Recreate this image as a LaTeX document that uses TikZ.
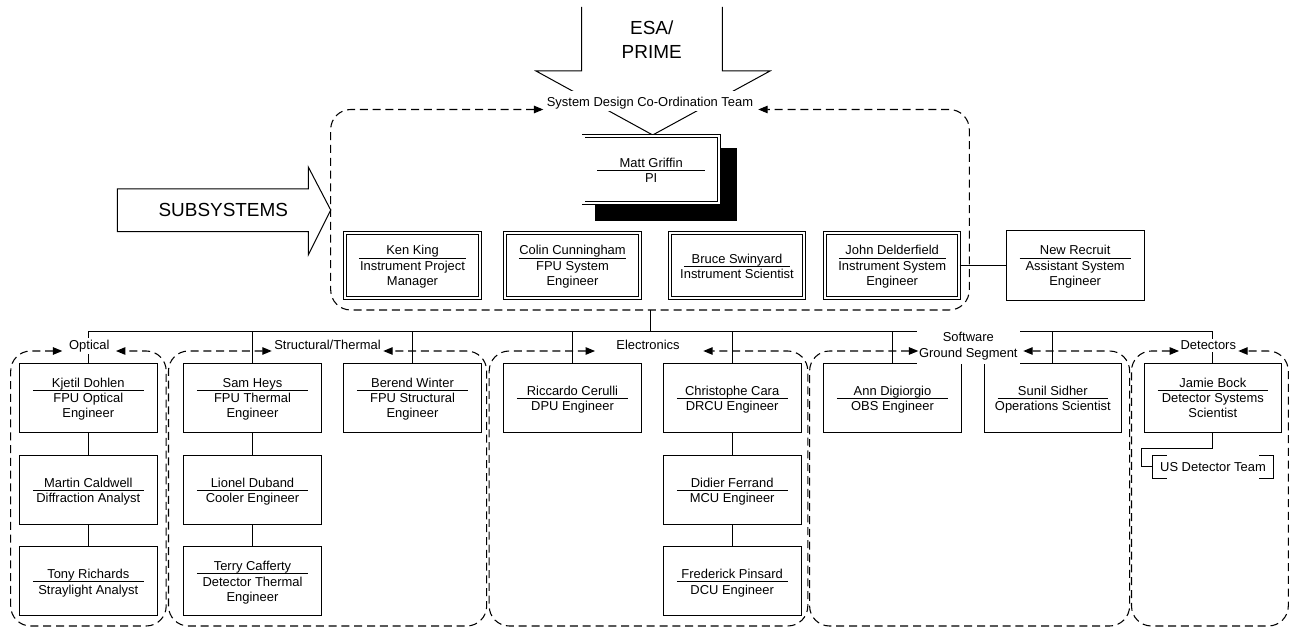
\documentclass[tikz,border=0pt]{standalone}
\usepackage{fontspec}
\setmainfont{Liberation Sans}
\usetikzlibrary{arrows.meta,calc,fit}

\tikzset{
  box/.style={draw, line width=0.75pt, fill=white, inner sep=0pt},
  dbl/.style={draw, line width=0.5pt, double, double distance=1.7pt, fill=white, inner sep=-1.35pt},
  sepline/.style={line width=0.75pt},
  link/.style={line width=0.75pt},
  grp/.style={line width=0.8pt, dash pattern=on 6pt off 3.6pt, rounded corners=15pt,
              {Triangle[length=7pt,width=5.6pt]}-{Triangle[length=7pt,width=5.6pt]}},
  txt/.style={font=\fontsize{9.7}{11.5}\selectfont, inner sep=0pt},
  lbl/.style={font=\fontsize{9.7}{11.5}\selectfont, fill=white, inner sep=1.5pt},
  big/.style={font=\fontsize{14.2}{17.5}\selectfont, inner sep=0pt},
  bigarrow/.style={draw, line width=0.75pt, line join=miter},
}

% #1 name, #2 frame style, #3-#6 corners, #7 first baseline offset, #8 lines
\newcommand\staffbox[8]{%
  \node[#2, fit={(#3,#4) (#5,#6)}] (#1) {};
  \node[txt, anchor=base] (#1-t) at ($(#1.center)+(0,#7)$)
    {\begin{tabular}[t]{@{}c@{}}#8\end{tabular}};
  \draw[sepline] ($(#1.west)+(14,#7+3.2)$) -- ($(#1.east)+(-14,#7+3.2)$);
}
% dashed team outline: #1 left x, #2 right x, #3 left tip, #4 right tip, #5 top y, #6 bottom y
\newcommand\teamframe[6]{%
  \draw[grp] (#3,#5) -- (#1,#5) -- (#1,#6) -- (#2,#6) -- (#2,#5) -- (#4,#5);
}

\begin{document}
\begin{tikzpicture}[x=0.75pt, y=-0.75pt]
\useasboundingbox (0,0) rectangle (1295,627);

% ---- ESA / PRIME input arrow
\draw[bigarrow] (581.7,7) -- (581.7,71) -- (536,71) -- (652.7,135) -- (770,71) -- (722.3,71) -- (722.3,7);
\node[big, anchor=base] (esa) at (651.7,35)
  {\begin{tabular}[t]{@{}c@{}}ESA/\\PRIME\end{tabular}};

% ---- PI with shadow
\fill (595,147.7) rectangle (737.3,220.7);
\staffbox{mg}{dbl}{581.7}{134}{720.7}{205}{-2}{Matt Griffin\\PI}

% ---- system design co-ordination team
\node[txt, fill=white, inner xsep=2.2pt, text height=11.5pt, text depth=3.5pt, anchor=base]
  (sdct) at (650,106.3) {System Design Co-Ordination Team};
\teamframe{330.7}{969.3}{543.3}{758.3}{109.5}{310}

% ---- subsystems arrow
\draw[bigarrow] (117.3,189) -- (308.3,189) -- (308.3,167) -- (330.7,210) -- (308.3,255)
  -- (308.3,231.7) -- (117.3,231.7) -- cycle;
\node[big, anchor=base] (subs) at (223.3,216.7) {SUBSYSTEMS};

% ---- core team
\staffbox{kk}{dbl}{343.3}{231}{481.7}{300}{-10.5}{Ken King\\Instrument Project\\Manager}
\staffbox{cc}{dbl}{503.3}{231}{641.7}{300}{-10.5}{Colin Cunningham\\FPU System\\Engineer}
\staffbox{bs}{dbl}{668.3}{231}{805.7}{300}{-2.5}{Bruce Swinyard\\Instrument Scientist}
\staffbox{jd}{dbl}{823.3}{231}{961}{300}{-10.5}{John Delderfield\\Instrument System\\Engineer}
\staffbox{nr}{box}{1006}{231}{1144.3}{300}{-10.5}{New Recruit\\Assistant System\\Engineer}
\draw[link] (jd.east) -- (nr.west);

% ---- subsystem teams, first row
\staffbox{kd}{box}{19.3}{363.3}{157.3}{432.3}{-10.5}{Kjetil Dohlen\\FPU Optical\\Engineer}
\staffbox{sh}{box}{183.3}{363.3}{321.7}{432.3}{-10.5}{Sam Heys\\FPU Thermal\\Engineer}
\staffbox{bw}{box}{343.3}{363.3}{481.7}{432.3}{-10.5}{Berend Winter\\FPU Structural\\Engineer}
\staffbox{rc}{box}{503.3}{363.3}{641.7}{432.3}{-2.5}{Riccardo Cerulli\\DPU Engineer}
\staffbox{cca}{box}{663.3}{363.3}{801}{432.3}{-2.5}{Christophe Cara\\DRCU Engineer}
\staffbox{ad}{box}{823.3}{363.3}{961.7}{432.3}{-2.5}{Ann Digiorgio\\OBS Engineer}
\staffbox{ss}{box}{984}{363.3}{1121.7}{432.3}{-2.5}{Sunil Sidher\\Operations Scientist}
\staffbox{jb}{box}{1144}{363.3}{1281.7}{432.3}{-10.5}{Jamie Bock\\Detector Systems\\Scientist}

% ---- second and third rows
\staffbox{mc}{box}{19.3}{455}{157.3}{524}{-2.5}{Martin Caldwell\\Diffraction Analyst}
\staffbox{ld}{box}{183.3}{455}{321.7}{524}{-2.5}{Lionel Duband\\Cooler Engineer}
\staffbox{df}{box}{663.3}{455}{801}{524}{-2.5}{Didier Ferrand\\MCU Engineer}
\staffbox{tr}{box}{19.3}{546.7}{157.3}{615.7}{-2.5}{Tony Richards\\Straylight Analyst}
\staffbox{tc}{box}{183.3}{546.7}{321.7}{615.7}{-10.5}{Terry Cafferty\\Detector Thermal\\Engineer}
\staffbox{fp}{box}{663.3}{546.7}{801}{615.7}{-2.5}{Frederick Pinsard\\DCU Engineer}

\draw[link] (kd.south) -- (mc.north);
\draw[link] (mc.south) -- (tr.north);
\draw[link] (sh.south) -- (ld.north);
\draw[link] (ld.south) -- (tc.north);
\draw[link] (cca.south) -- (df.north);
\draw[link] (df.south) -- (fp.north);

% ---- distribution bus
\coordinate (bus) at (0,331.7);
\coordinate (teamb) at (650.7,310);
\draw[link] (teamb) -- (teamb |- bus);
\draw[link] (kd.north |- bus) -- (jb.north |- bus) -- (jb.north);
\foreach \n in {kd,sh,bw,rc,cca,ad,ss}
  \draw[link] (\n.north |- bus) -- (\n.north);

% ---- US detector team
\node[txt, inner xsep=5.2pt, minimum height=16.7pt] (usd) at (1213,466.7) {US Detector Team};
\draw[link] (jb.south) -- ++(0,16) -| ($(usd.west)+(-11,0)$) -- (usd.west);
\draw[link] ($(usd.north west)+(14,0)$) -- (usd.north west) -- (usd.south west) -- ++(14,0);
\draw[link] ($(usd.north east)+(-14,0)$) -- (usd.north east) -- (usd.south east) -- ++(-14,0);

% ---- team labels
\node[lbl, anchor=base] (optl) at (89.3,349.5) {Optical};
\node[lbl, anchor=base] (strl) at (327.5,349.5) {Structural/Thermal};
\node[lbl, anchor=base] (elel) at (648,349.5) {Electronics};
\node[lbl, anchor=base] (sofl) at (968.3,341.9)
  {\begin{tabular}[t]{@{}c@{}}Software\\Ground Segment\end{tabular}};
\node[lbl, anchor=base] (detl) at (1208.3,349.5) {Detectors};

% ---- team outlines
\teamframe{10.7}{166.2}{62.3}{116}{351}{626}
\teamframe{168.5}{486.7}{271.7}{383.3}{351}{626}
\teamframe{489.2}{807.8}{595}{703.3}{351}{626}
\teamframe{809.6}{1129.6}{918.3}{1023.3}{351}{626}
\teamframe{1131.5}{1288.3}{1179}{1238.3}{351}{626}

\end{tikzpicture}
\end{document}
